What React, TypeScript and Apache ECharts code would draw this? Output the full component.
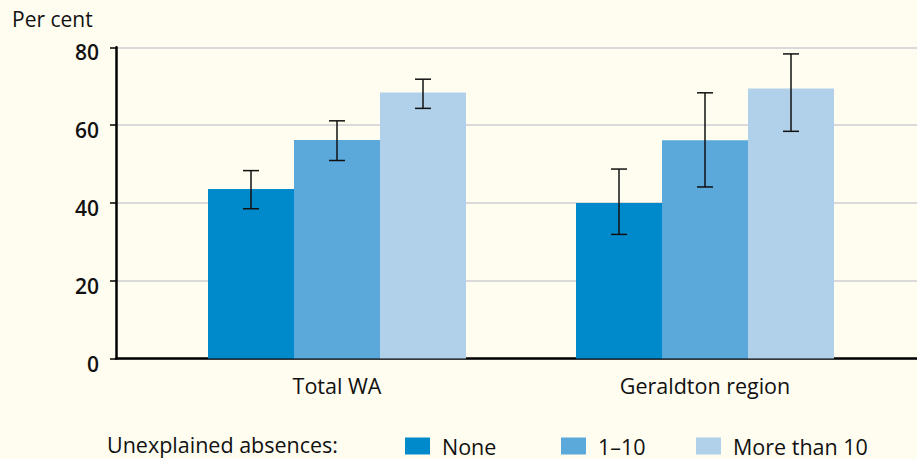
import React, { useEffect, useRef } from "react";
import * as echarts from "echarts";

const categories = ["Total WA", "Geraldton region"];
const seriesNames = ["None", "1–10", "More than 10"];
const noneValues = [43.6, 40.0];
const oneToTenValues = [56.2, 56.1];
const moreThanTenValues = [68.4, 69.4];
const noneLow = [38.5, 31.9];
const noneHigh = [48.3, 48.7];
const oneToTenLow = [50.9, 44.1];
const oneToTenHigh = [61.1, 68.3];
const moreLow = [64.3, 58.4];
const moreHigh = [71.8, 78.3];
const yTicks = [0, 20, 40, 60, 80];

const colors = ["#0089CB", "#5BA8DA", "#B1D1EA"];
const FONT = "Open Sans";

export default function App() {
  const ref = useRef<HTMLDivElement>(null);
  useEffect(() => {
    if (!ref.current) return;
    const chart = echarts.init(ref.current, null, { renderer: "svg" });
    const values = [noneValues, oneToTenValues, moreThanTenValues];
    const lows = [noneLow, oneToTenLow, moreLow];
    const highs = [noneHigh, oneToTenHigh, moreHigh];
    const errData: number[][] = [];
    for (let s = 0; s < 3; s++) {
      for (let c = 0; c < categories.length; c++) {
        errData.push([c, s, lows[s][c], highs[s][c]]);
      }
    }
    const barW = 86;
    const cap = 8;
    chart.setOption({
      animation: false,
      backgroundColor: "#FFFDF0",
      textStyle: { fontFamily: FONT },
      grid: [
        { left: 116, right: 0, top: 47.3, bottom: 100.5 },
        { left: 153, width: 736, top: 47.3, bottom: 100.5 },
      ],
      xAxis: [
        {
          gridIndex: 0,
          type: "category",
          data: ["a"],
          axisLine: { show: true, lineStyle: { color: "#000", width: 2.5 } },
          axisTick: { show: false },
          axisLabel: { show: false },
        },
        {
          gridIndex: 1,
          type: "category",
          data: categories,
          axisLine: { show: false },
          axisTick: { show: false },
          axisLabel: { color: "#111", fontSize: 21.5, margin: 16, fontFamily: FONT },
        },
      ],
      yAxis: [
        {
          gridIndex: 0,
          type: "value",
          min: yTicks[0],
          max: yTicks[yTicks.length - 1],
          interval: 20,
          axisLine: { show: true, lineStyle: { color: "#000", width: 2.5 } },
          axisTick: { show: true, length: 6, lineStyle: { color: "#000", width: 1.5 } },
          axisLabel: {
            color: "#111",
            fontSize: 21,
            fontWeight: 600,
            margin: 17,
            fontFamily: FONT,
            verticalAlign: "top",
            lineHeight: 10,
          },
          splitLine: { show: true, lineStyle: { color: "#DADADA", width: 2 } },
        },
        {
          gridIndex: 1,
          type: "value",
          min: 0,
          max: 80,
          show: false,
          splitLine: { show: false },
        },
      ],
      legend: seriesNames.map((n, i) => ({
        data: [n],
        left: [405, 561, 696][i],
        top: 435,
        icon: "rect",
        itemWidth: 25,
        itemHeight: 17,
        padding: 0,
        textStyle: {
          fontSize: 21.5,
          color: "#111",
          fontFamily: FONT,
          lineHeight: 20,
          padding: [0, 0, 0, 7],
        },
      })),
      graphic: [
        {
          type: "text",
          left: 12,
          top: 8,
          style: { text: "Per cent", fontSize: 21, fill: "#111", fontFamily: FONT },
        },
        {
          type: "text",
          left: 107,
          top: 433,
          style: { text: "Unexplained absences:", fontSize: 21.5, fill: "#111", fontFamily: FONT },
        },
      ],
      series: [
        ...seriesNames.map((n, i) => ({
          name: n,
          type: "bar",
          xAxisIndex: 1,
          yAxisIndex: 1,
          data: values[i],
          barWidth: barW,
          barGap: "0%",
          itemStyle: { color: colors[i] },
        })),
        {
          type: "custom",
          xAxisIndex: 1,
          yAxisIndex: 1,
          z: 10,
          data: errData,
          encode: { x: 0, y: [2, 3] },
          renderItem: (params: any, api: any) => {
            const c = api.value(0);
            const s = api.value(1);
            const lo = api.coord([c, api.value(2)]);
            const hi = api.coord([c, api.value(3)]);
            const x = lo[0] + (s - 1) * barW;
            const st = { stroke: "#111", lineWidth: 1.5 };
            return {
              type: "group",
              children: [
                { type: "line", shape: { x1: x, y1: lo[1], x2: x, y2: hi[1] }, style: st },
                { type: "line", shape: { x1: x - cap, y1: lo[1], x2: x + cap, y2: lo[1] }, style: st },
                { type: "line", shape: { x1: x - cap, y1: hi[1], x2: x + cap, y2: hi[1] }, style: st },
              ],
            };
          },
        },
      ],
    });
    return () => chart.dispose();
  }, []);
  return (
    <div
      ref={ref}
      style={{ position: "absolute", left: 0, top: 0, width: 917, height: 459, background: "#FFFDF0" }}
    />
  );
}
